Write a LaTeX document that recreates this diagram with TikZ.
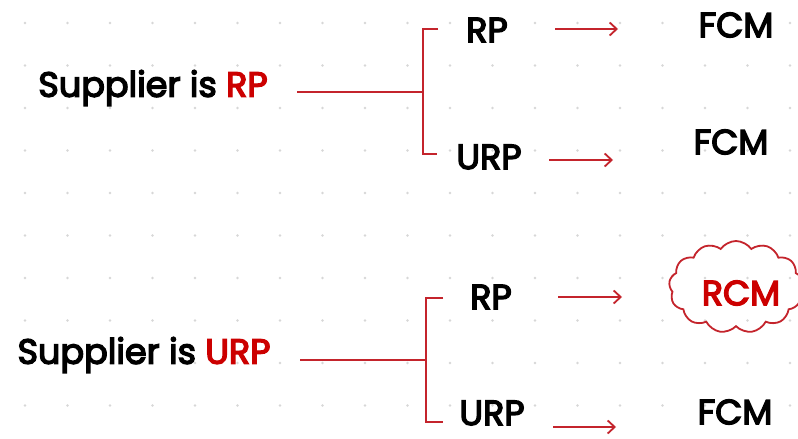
\documentclass[tikz,border=0pt]{standalone}
\usepackage{fontspec}
\setmainfont{Poppins}
\newfontfamily\handfont[FakeBold=4]{Poppins}
\usetikzlibrary{arrows.meta,shapes.symbols}
\definecolor{hred}{RGB}{204,0,0}
\definecolor{lred}{RGB}{196,36,44}
\definecolor{dotgray}{RGB}{215,215,215}
\tikzset{
  lbl/.style={font=\fontsize{35}{35}\selectfont\handfont, inner sep=0pt, anchor=center},
  redline/.style={lred, line width=1.8pt},
  arr/.style={lred, line width=1.8pt, -{Straight Barb[length=7pt,width=13pt]}},
  bubble/.style={cloud, draw=lred, line width=1.8pt, cloud puffs=13, cloud puff arc=110,
    aspect=1.45, minimum width=134pt, minimum height=92pt, inner sep=0pt}
}
\begin{document}
\begin{tikzpicture}[x=1pt,y=-1pt]
\useasboundingbox (0,0) rectangle (798,439);
\fill[white] (0,0) rectangle (798,439);
% faint dotted paper
\foreach \i in {0,...,18}{
  \foreach \j in {0,...,9}{
    \fill[dotgray] (25+42.5*\i, 23+42.5*\j) circle (1.3);
  }
}

% ---- upper case: supplier is RP ----
\node[lbl] (s1) at (153,88) {Supplier is \textcolor{hred}{RP}};
\coordinate (l1) at (297,92);
\coordinate (b1) at (423,92);
\coordinate (b1t) at (423,29);
\coordinate (b1b) at (423,154);
\coordinate (b1tt) at (438,29);
\coordinate (b1bt) at (437,154);
\node[lbl] (r1) at (487,30) {RP};
\node[lbl] (u1) at (489,157) {URP};
\node[lbl] (f1) at (736,25) {FCM};
\node[lbl] (f2) at (731,142) {FCM};
\coordinate (a1s) at (555,29);
\coordinate (a1e) at (618,29);
\coordinate (a2s) at (549,160);
\coordinate (a2e) at (613,160);
\draw[redline] (l1) -- (b1);
\draw[redline] (b1tt) -- (b1t) -- (b1b) -- (b1bt);
\draw[arr] (a1s) -- (a1e);
\draw[arr] (a2s) -- (a2e);

% ---- lower case: supplier is URP ----
\node[lbl] (s2) at (144,355) {Supplier is \textcolor{hred}{URP}};
\coordinate (l2) at (300,360);
\coordinate (b2) at (426,360);
\coordinate (b2t) at (426,298);
\coordinate (b2b) at (426,422);
\coordinate (b2tt) at (443,298);
\coordinate (b2bt) at (443,422);
\node[lbl] (r2) at (491,297) {RP};
\node[lbl] (u2) at (492,413) {URP};
\node[bubble] (c) at (736,287) {};
\node[lbl, text=hred] (rcm) at (741,293) {RCM};
\node[lbl] (f3) at (735,412) {FCM};
\coordinate (a3s) at (558,297);
\coordinate (a3e) at (622,297);
\coordinate (a4s) at (553,427);
\coordinate (a4e) at (616,427);
\draw[redline] (l2) -- (b2);
\draw[redline] (b2tt) -- (b2t) -- (b2b) -- (b2bt);
\draw[arr] (a3s) -- (a3e);
\draw[arr] (a4s) -- (a4e);
\end{tikzpicture}
\end{document}
